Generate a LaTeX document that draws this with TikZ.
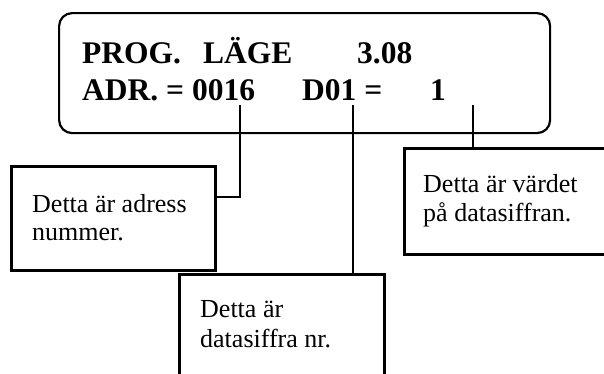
\documentclass[tikz,border=0pt]{standalone}
\usepackage{fontspec}
\setmainfont{Liberation Serif}
\begin{document}
\begin{tikzpicture}[x=1pt,y=-1pt,
  boxstyle/.style={draw=black,line width=2.6pt,rectangle,inner sep=0pt,anchor=north west},
  dispstyle/.style={draw=black,line width=2.2pt,rectangle,rounded corners=13pt,inner sep=0pt,anchor=north west},
  bigtxt/.style={anchor=base west,inner sep=0pt,font=\fontsize{31.5}{37}\selectfont\bfseries},
  smalltxt/.style={anchor=base west,inner sep=0pt,font=\fontsize{26}{29}\selectfont},
  conn/.style={draw=black,line width=2.6pt}]
\useasboundingbox (0,0) rectangle (604,373);
\clip (0,0) rectangle (604,373);
\fill[white] (0,0) rectangle (604,373);
% display
\node[dispstyle,minimum width=491pt,minimum height=120pt] (disp) at (58,12) {};
\node[bigtxt] (prog) at (82,63) {PROG.};
\node[bigtxt] (lage) at (203,63) {LÄGE};
\node[bigtxt] (ver) at (357,63) {3.08};
\node[bigtxt] (adr) at (82,100) {ADR. = 0016};
\node[bigtxt] (dno) at (302,100) {D01 =};
\node[bigtxt] (val) at (430,100) {1};
% boxes
\node[boxstyle,minimum width=204pt,minimum height=104pt] (addr) at (10,165) {};
\node[boxstyle,minimum width=205pt,minimum height=120pt] (data) at (178,273) {};
\node[boxstyle,minimum width=230pt,minimum height=106pt] (valbox) at (403,147) {};
\node[smalltxt] (a1) at (32,212) {Detta är adress};
\node[smalltxt] (a2) at (32,240) {nummer.};
\node[smalltxt] (d1) at (200,317) {Detta är};
\node[smalltxt] (d2) at (200,347) {datasiffra nr.};
\node[smalltxt] (v1) at (423,192) {Detta är värdet};
\node[smalltxt] (v2) at (423,221) {på datasiffran.};
% connectors
\coordinate (c1) at (240,105);
\coordinate (c2) at (353,105);
\coordinate (c3) at (473,105);
\draw[conn] (c1) |- ([yshift=-32pt]addr.north east);
\draw[conn] (c2) -- (c2 |- data.north);
\draw[conn] (c3) -- (c3 |- valbox.north);
\end{tikzpicture}
\end{document}
